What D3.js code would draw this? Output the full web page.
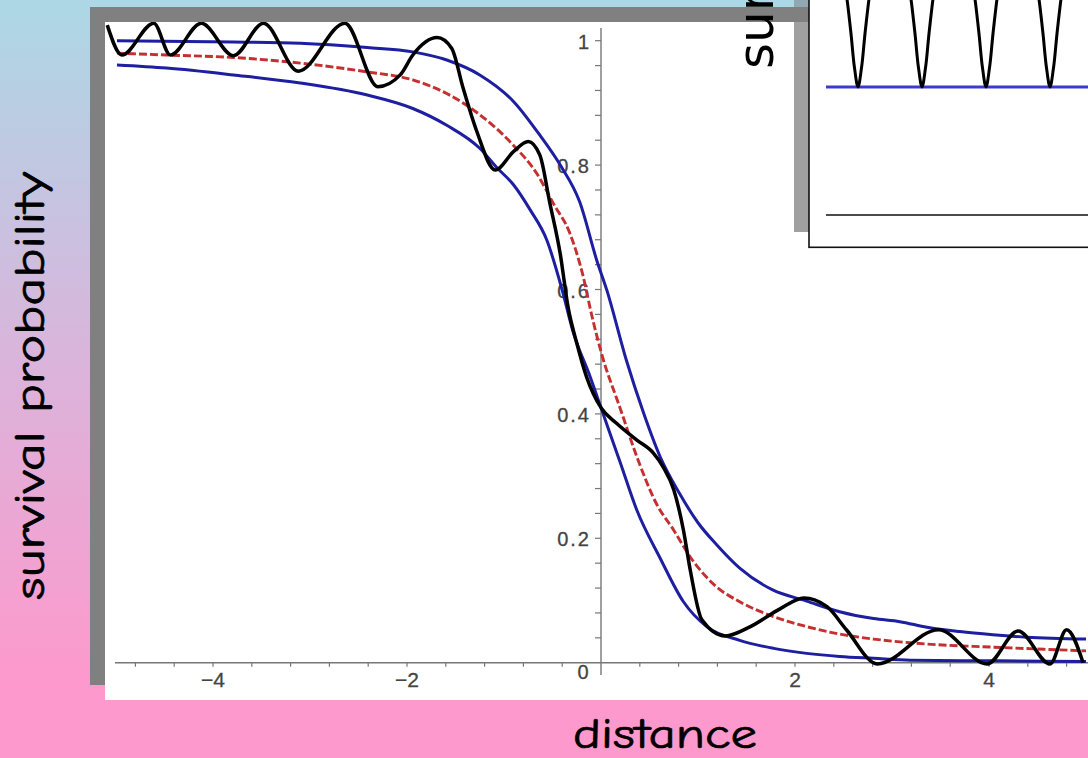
<!DOCTYPE html>
<html><head><meta charset="utf-8">
<script src="https://cdn.jsdelivr.net/npm/d3@7"></script>
<style>html,body{margin:0;padding:0;overflow:hidden;background:#fd99cc}</style>
</head><body>
<svg id="c" width="1088" height="758"></svg>
<script>
// ---------- data ----------
const xMajorTicks = [-4, -2, 2, 4];
const xTickLabels = ["\u22124", "\u22122", "2", "4"];
const yMajorTicks = [0.2, 0.4, 0.6, 0.8, 1];
const yTickLabels = ["0.2", "0.4", "0.6", "0.8", "1"];
const originLabel = "0";

const upperX = [-4.99, -3.79, -3.10, -2.41, -1.94, -1.59, -1.25, -0.90, -0.63, -0.42, -0.22, -0.04, 0.06, 0.26, 0.44, 0.61, 0.81, 1.00, 1.19, 1.43, 1.77, 2.12, 2.46, 2.81, 3.08, 3.36, 3.70, 4.04, 4.39, 5.00];
const upperY = [1.000, 0.998, 0.996, 0.989, 0.982, 0.969, 0.945, 0.902, 0.848, 0.800, 0.741, 0.645, 0.599, 0.487, 0.401, 0.331, 0.272, 0.225, 0.190, 0.152, 0.117, 0.099, 0.082, 0.071, 0.066, 0.057, 0.050, 0.045, 0.041, 0.038];

const midX = [-4.99, -4.48, -3.79, -3.10, -2.42, -1.94, -1.59, -1.25, -0.91, -0.66, -0.49, -0.32, -0.19, -0.09, 0.00, 0.20, 0.37, 0.57, 0.75, 0.92, 1.19, 1.43, 1.78, 2.12, 2.46, 2.81, 3.36, 4.04, 5.00];
const midY = [0.980, 0.977, 0.973, 0.964, 0.950, 0.937, 0.915, 0.881, 0.833, 0.786, 0.738, 0.690, 0.625, 0.555, 0.500, 0.408, 0.331, 0.256, 0.213, 0.170, 0.122, 0.098, 0.074, 0.058, 0.046, 0.038, 0.030, 0.025, 0.019];

const lowerX = [-4.99, -4.48, -3.79, -3.10, -2.42, -1.94, -1.59, -1.25, -1.08, -0.90, -0.73, -0.56, -0.40, -0.29, -0.11, 0.02, 0.20, 0.37, 0.61, 0.85, 1.09, 1.43, 1.78, 2.12, 2.46, 2.81, 3.19, 4.11, 5.00];
const lowerY = [0.961, 0.956, 0.945, 0.932, 0.913, 0.891, 0.864, 0.827, 0.797, 0.768, 0.728, 0.680, 0.599, 0.533, 0.459, 0.401, 0.321, 0.245, 0.168, 0.098, 0.058, 0.036, 0.023, 0.015, 0.010, 0.007, 0.004, 0.003, 0.002];

const waveX = [-5.09, -4.94, -4.61, -4.44, -4.12, -3.79, -3.48, -3.12, -2.64, -2.30, -2.07, -1.94, -1.69, -1.54, -1.42, -1.28, -1.09, -0.90, -0.75, -0.63, -0.53, -0.42, -0.34, -0.25, -0.15, 0.00, 0.16, 0.37, 0.54, 0.64, 0.75, 0.85, 0.92, 1.04, 1.28, 1.54, 1.85, 2.09, 2.33, 2.53, 2.85, 3.48, 3.98, 4.30, 4.63, 4.80, 4.97];
const waveY = [1.025, 0.977, 1.028, 0.977, 1.028, 0.976, 1.028, 0.951, 1.028, 0.926, 0.945, 0.977, 1.005, 0.988, 0.923, 0.854, 0.792, 0.822, 0.838, 0.816, 0.741, 0.657, 0.572, 0.514, 0.460, 0.410, 0.385, 0.358, 0.337, 0.315, 0.278, 0.213, 0.149, 0.069, 0.043, 0.058, 0.087, 0.104, 0.090, 0.053, -0.002, 0.053, -0.002, 0.051, -0.002, 0.053, 0.000];

// inset: four narrow dips down to the blue level
const insetSpikeX = [
  [0.805, 0.83, 0.89, 0.945, 1.0, 1.055, 1.11, 1.17, 1.195],
  [1.805, 1.83, 1.89, 1.945, 2.0, 2.055, 2.11, 2.17, 2.195],
  [2.805, 2.83, 2.89, 2.945, 3.0, 3.055, 3.11, 3.17, 3.195],
  [3.805, 3.83, 3.89, 3.945, 4.0, 4.055, 4.11, 4.17, 4.195]
];
const insetSpikeY = [1.76, 1.68, 1.42, 1.15, 1.0, 1.15, 1.42, 1.68, 1.76];
const insetBlueLevel = 1.0;
const insetBlackLevel = 0.0;

// ---------- drawing ----------
const svg = d3.select("#c");
const W = 1088, H = 758;

const defs = svg.append("defs");
const grad = defs.append("linearGradient").attr("id", "bg").attr("x1", 0).attr("y1", 0).attr("x2", 0).attr("y2", 1);
grad.append("stop").attr("offset", "0%").attr("stop-color", "#acd8e6");
grad.append("stop").attr("offset", "45%").attr("stop-color", "#d8b6dc");
grad.append("stop").attr("offset", "90%").attr("stop-color", "#fd99cc");
grad.append("stop").attr("offset", "100%").attr("stop-color", "#fd99cc");
svg.append("rect").attr("width", W).attr("height", H).attr("fill", "url(#bg)");

// main panel with gray shadow
svg.append("rect").attr("x", 90).attr("y", 7).attr("width", 1010).attr("height", 678).attr("fill", "#808080");
svg.append("rect").attr("x", 105).attr("y", 22).attr("width", 1000).attr("height", 678).attr("fill", "#ffffff");

defs.append("clipPath").attr("id", "plotclip").append("rect")
  .attr("x", 105).attr("y", 22).attr("width", 990).attr("height", 678);

const x = d3.scaleLinear().domain([-5, 5]).range([116, 1086]);
const y = d3.scaleLinear().domain([0, 1]).range([662.7, 40.7]);

const axisG = svg.append("g");
const axisColor = "#777";
const tickFont = "Liberation Sans, Arial, sans-serif";
// x axis
axisG.append("line").attr("x1", 115).attr("x2", 1088).attr("y1", y(0)).attr("y2", y(0))
  .attr("stroke", axisColor).attr("stroke-width", 1.4);
const xMinor = d3.range(-12, 13).map(i => +(i * 0.4).toFixed(2)).filter(v => v !== 0);
axisG.selectAll(".xt").data(xMinor).join("line")
  .attr("x1", d => x(d)).attr("x2", d => x(d))
  .attr("y1", y(0)).attr("y2", y(0) + 4)
  .attr("stroke", axisColor).attr("stroke-width", 1.2);
axisG.selectAll(".xl").data(xMajorTicks).join("text")
  .attr("x", d => x(d)).attr("y", y(0) + 24)
  .attr("text-anchor", "middle")
  .attr("font-family", tickFont).attr("font-size", 21)
  .attr("fill", "#444").attr("stroke", "#444").attr("stroke-width", 0.3)
  .text((d, i) => xTickLabels[i]);
// y axis
axisG.append("line").attr("x1", x(0)).attr("x2", x(0)).attr("y1", 28).attr("y2", 675)
  .attr("stroke", axisColor).attr("stroke-width", 1.4);
const yMinor = d3.range(1, 26).map(i => +(i * 0.04).toFixed(2));
axisG.selectAll(".yt").data(yMinor).join("line")
  .attr("x1", x(0) - 6).attr("x2", x(0))
  .attr("y1", d => y(d)).attr("y2", d => y(d))
  .attr("stroke", axisColor).attr("stroke-width", 1.2);
axisG.selectAll(".yl").data(yMajorTicks).join("text")
  .attr("x", x(0) - 10).attr("y", d => y(d) + 8)
  .attr("text-anchor", "end")
  .attr("font-family", tickFont).attr("font-size", 20)
  .attr("letter-spacing", 2)
  .attr("fill", "#444").attr("stroke", "#444").attr("stroke-width", 0.3)
  .text((d, i) => yTickLabels[i]);
axisG.append("text").attr("x", x(0) - 18).attr("y", y(0) + 16)
  .attr("text-anchor", "middle")
  .attr("font-family", tickFont).attr("font-size", 20)
  .attr("fill", "#444").attr("stroke", "#444").attr("stroke-width", 0.3).text(originLabel);

// curves
const plot = svg.append("g").attr("clip-path", "url(#plotclip)");
const line = d3.line().x(d => x(d[0])).y(d => y(d[1])).curve(d3.curveMonotoneX);
const zip = (a, b) => a.map((v, i) => [v, b[i]]);

plot.append("path").attr("d", line(zip(upperX, upperY)))
  .attr("fill", "none").attr("stroke", "#1e1ea0").attr("stroke-width", 3);
plot.append("path").attr("d", line(zip(lowerX, lowerY)))
  .attr("fill", "none").attr("stroke", "#1e1ea0").attr("stroke-width", 3);
plot.append("path").attr("d", line(zip(midX, midY)))
  .attr("fill", "none").attr("stroke", "#c42f2f").attr("stroke-width", 2.9)
  .attr("stroke-dasharray", "8,3");
plot.append("path").attr("d", line(zip(waveX, waveY)))
  .attr("fill", "none").attr("stroke", "#000").attr("stroke-width", 3.5)
  .attr("stroke-linejoin", "round");

// inset
svg.append("rect").attr("x", 794).attr("y", 22).attr("width", 15).attr("height", 210).attr("fill", "#a0a0a0");
svg.append("rect").attr("x", 794).attr("y", 0).attr("width", 15).attr("height", 7).attr("fill", "#8fa8b2");
svg.append("rect").attr("x", 809).attr("y", -3).attr("width", 300).attr("height", 250.3)
  .attr("fill", "#fff").attr("stroke", "#111").attr("stroke-width", 1.6);

const ix = d3.scaleLinear().domain([0, 1]).range([794, 858]);
const iy = d3.scaleLinear().domain([0, 1]).range([215, 87]);
svg.append("line").attr("x1", 826).attr("x2", 1090).attr("y1", iy(insetBlueLevel)).attr("y2", iy(insetBlueLevel))
  .attr("stroke", "#3a3ad2").attr("stroke-width", 3);
svg.append("line").attr("x1", 826).attr("x2", 1090).attr("y1", iy(insetBlackLevel)).attr("y2", iy(insetBlackLevel))
  .attr("stroke", "#111").attr("stroke-width", 1.5);
const iline = d3.line().x(d => ix(d[0])).y(d => iy(d[1])).curve(d3.curveCatmullRom);
insetSpikeX.forEach(xs => {
  svg.append("path").attr("d", iline(zip(xs, insetSpikeY)))
    .attr("fill", "none").attr("stroke", "#000").attr("stroke-width", 3);
});

// axis titles
const titleFont = "'Comic Sans MS', 'Comic Neue', 'DejaVu Sans', sans-serif";
svg.append("text").attr("transform", "translate(773,69) rotate(-90)")
  .attr("font-family", "'DejaVu Sans', sans-serif").attr("font-size", 50)
  .attr("fill", "#000").text("survival probability");
svg.append("text").attr("transform", "translate(44,386) rotate(-90)")
  .attr("text-anchor", "middle")
  .attr("font-family", titleFont).attr("font-size", 42)
  .attr("textLength", 428).attr("lengthAdjust", "spacingAndGlyphs")
  .attr("fill", "#000").attr("stroke", "#000").attr("stroke-width", 0.7)
  .text("survival probability");
svg.append("text").attr("x", 665).attr("y", 748)
  .attr("text-anchor", "middle")
  .attr("font-family", titleFont).attr("font-size", 43)
  .attr("textLength", 184).attr("lengthAdjust", "spacingAndGlyphs")
  .attr("fill", "#000").attr("stroke", "#000").attr("stroke-width", 0.7)
  .text("distance");
</script>
</body></html>
